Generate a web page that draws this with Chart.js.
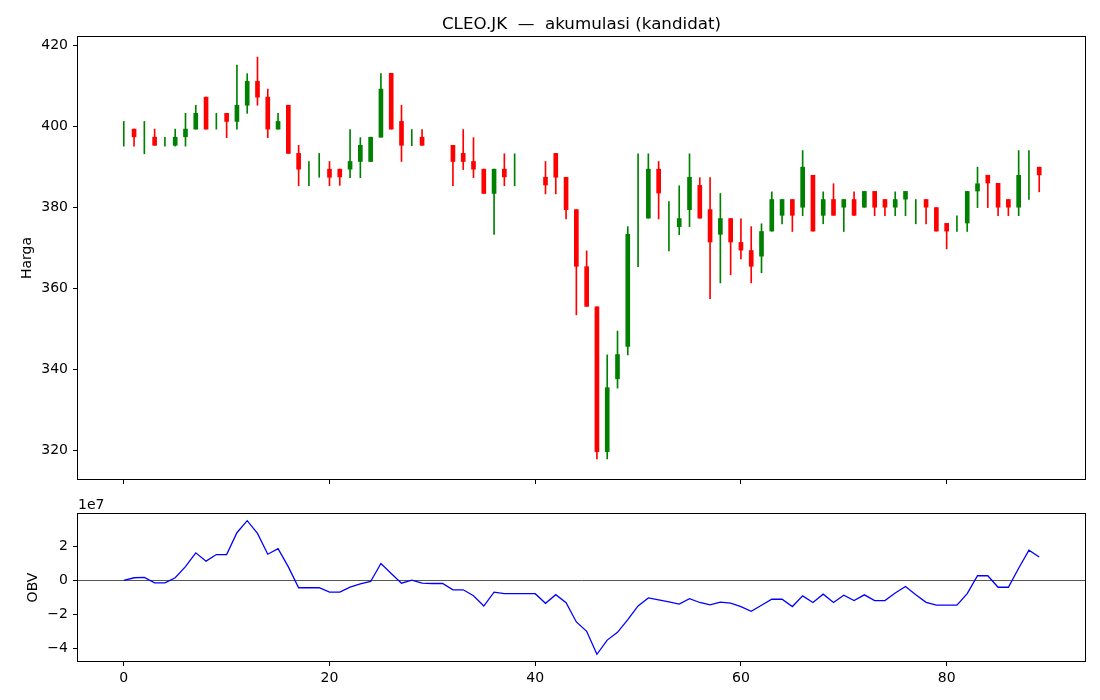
<!DOCTYPE html>
<html>
<head>
<meta charset="utf-8">
<script src="https://cdn.jsdelivr.net/npm/chart.js@4.4.1/dist/chart.umd.min.js"></script>
<style>
  html, body { margin: 0; padding: 0; background: #fff; }
  #wrap { position: relative; width: 1100px; height: 700px; }
  canvas { position: absolute; left: 0; }
  #price { top: 0; }
  #obv { top: 493px; }
</style>
</head>
<body>
<div id="wrap">
  <canvas id="price" width="1100" height="493"></canvas>
  <canvas id="obv" width="1100" height="207"></canvas>
</div>
<script>
// Chart data
const TITLE = 'CLEO.JK  —  akumulasi (kandidat)';

const days = Array.from({ length: 90 }, (_, i) => i);

const opens = [
  397.3, 399.3, 399.3, 397.3, 395.3, 395.3, 397.4, 399.3, 407.2, 401.2,
  403.2, 401.2, 405.2, 411.1, 407.2, 399.3, 405.2, 393.3, 389.4, 389.4,
  389.4, 389.4, 389.4, 391.3, 391.3, 397.3, 413.1, 401.2, 397.3, 397.3,
  395.3, 395.3, 395.3, 393.3, 391.3, 389.4, 383.4, 389.4, 387.5, 387.5,
  387.5, 387.4, 393.3, 387.4, 379.4, 365.3, 355.4, 319.6, 337.6, 345.6,
  377.3, 377.3, 389.4, 375.2, 375.2, 379.4, 385.4, 379.4, 373.3, 377.2,
  371.3, 369.3, 367.9, 374.1, 378.0, 381.9, 380.0, 387.9, 378.0, 381.9,
  380.0, 381.9, 380.0, 383.9, 381.9, 380.0, 382.0, 380.0, 381.9, 379.9,
  376.0, 374.1, 376.1, 384.0, 387.9, 385.9, 381.9, 380.0, 389.9, 389.9
];
const highs = [
  401.2, 399.3, 401.2, 399.3, 397.3, 399.3, 403.2, 405.2, 407.2, 403.2,
  403.2, 415.1, 413.0, 417.1, 409.2, 403.2, 405.2, 395.3, 391.3, 393.3,
  391.3, 389.4, 399.2, 397.2, 397.3, 413.0, 413.1, 405.2, 399.2, 399.2,
  395.3, 395.3, 395.3, 399.2, 397.2, 389.4, 389.4, 393.2, 393.2, 387.5,
  387.5, 391.3, 393.3, 387.4, 379.4, 369.2, 355.4, 343.5, 349.4, 375.2,
  393.2, 393.2, 391.3, 381.4, 385.3, 393.2, 387.3, 387.3, 383.4, 377.2,
  377.1, 375.2, 375.9, 383.8, 381.9, 381.9, 394.0, 387.9, 383.8, 385.8,
  381.9, 383.8, 383.9, 383.9, 381.9, 383.8, 383.9, 381.9, 381.9, 379.9,
  376.0, 377.9, 383.9, 389.9, 387.9, 385.9, 381.9, 394.0, 394.0, 389.9
];
const lows = [
  395.1, 395.1, 393.2, 395.3, 395.1, 395.1, 395.1, 399.3, 399.3, 399.3,
  397.2, 399.3, 403.2, 405.2, 397.2, 399.3, 393.3, 385.3, 385.3, 387.4,
  385.3, 385.4, 387.3, 387.3, 391.3, 397.3, 399.3, 391.3, 395.2, 395.3,
  395.3, 395.3, 385.3, 389.3, 387.3, 383.4, 373.3, 385.3, 385.3, 387.5,
  387.5, 383.3, 383.3, 377.1, 353.4, 355.5, 317.8, 317.8, 335.3, 343.5,
  365.3, 377.3, 377.1, 369.2, 373.2, 375.2, 377.3, 357.4, 361.3, 363.3,
  367.2, 361.3, 363.8, 374.1, 375.9, 374.0, 377.9, 374.1, 375.9, 378.0,
  374.0, 378.0, 380.0, 377.9, 377.9, 377.9, 377.9, 375.9, 375.9, 374.1,
  369.7, 374.0, 374.0, 379.9, 379.9, 377.9, 377.9, 377.9, 381.9, 383.8
];
const closes = [
  397.3, 397.4, 399.3, 395.3, 395.3, 397.3, 399.3, 403.2, 399.3, 401.2,
  401.2, 405.2, 411.1, 407.2, 399.3, 401.2, 393.3, 389.4, 389.4, 389.4,
  387.4, 387.5, 391.3, 395.3, 397.3, 409.2, 399.3, 395.3, 397.3, 395.3,
  395.3, 395.3, 391.3, 391.3, 389.4, 383.4, 389.4, 387.5, 387.5, 387.5,
  387.5, 385.5, 387.4, 379.4, 365.4, 355.5, 319.6, 335.4, 343.6, 373.3,
  377.3, 389.4, 383.5, 375.2, 377.2, 387.4, 377.3, 371.4, 377.2, 371.4,
  369.4, 365.4, 374.0, 381.9, 381.9, 378.0, 389.9, 374.1, 381.9, 378.0,
  381.9, 378.0, 383.9, 380.0, 380.0, 381.9, 383.9, 380.0, 380.0, 374.1,
  374.1, 374.1, 383.9, 385.8, 386.0, 380.0, 380.0, 387.9, 389.9, 388.0
];

// OBV in units of 1e7
const obvE7 = [
  0.00, 0.16, 0.18, -0.14, -0.14, 0.16, 0.82, 1.63, 1.14, 1.53,
  1.53, 2.82, 3.53, 2.78, 1.55, 1.88, 0.80, -0.43, -0.43, -0.43,
  -0.69, -0.69, -0.39, -0.20, -0.06, 1.00, 0.41, -0.16, 0.02, -0.16,
  -0.18, -0.18, -0.55, -0.55, -0.90, -1.51, -0.69, -0.78, -0.78, -0.78,
  -0.78, -1.35, -0.84, -1.31, -2.45, -3.00, -4.36, -3.52, -3.06, -2.31,
  -1.50, -1.03, -1.15, -1.26, -1.40, -1.07, -1.30, -1.44, -1.28, -1.34,
  -1.54, -1.82, -1.46, -1.11, -1.11, -1.54, -0.91, -1.30, -0.81, -1.30,
  -0.87, -1.19, -0.85, -1.19, -1.19, -0.74, -0.36, -0.84, -1.29, -1.46,
  -1.46, -1.46, -0.78, 0.28, 0.28, -0.40, -0.40, 0.72, 1.79, 1.39
];

const dayTicks = [0, 20, 40, 60, 80];
const priceTicks = [320, 340, 360, 380, 400, 420];
const obvTicks = [-4, -2, 0, 2];

const UP = '#008000';
const DOWN = '#ff0000';
const OBV_COLOR = '#0000ff';

Chart.defaults.font.family = "'DejaVu Sans', sans-serif";
Chart.defaults.font.size = 14;
Chart.defaults.color = '#000';

// matplotlib style 5% margins
function padRange(lo, hi) {
    const m = (hi - lo) * 0.05;
    return [lo - m, hi + m];
}
const [xMin, xMax] = padRange(days[0], days[days.length - 1]);
const [pMin, pMax] = padRange(Math.min(...lows), Math.max(...highs));
const [oMin, oMax] = padRange(Math.min(...obvE7), Math.max(...obvE7));

const candleColors = days.map((i) => (closes[i] >= opens[i] ? UP : DOWN));

// zero-height bars are left out, like a flat body in matplotlib
const span = (i, a, b) => (a === b ? { x: i, y: null } : { x: i, y: [a, b] });

// box around the plot area + free text
const framePlugin = {
    id: 'frame',
    afterDraw(chart, args, opts) {
        const { ctx, chartArea: a } = chart;
        ctx.save();
        ctx.strokeStyle = '#000';
        ctx.lineWidth = 1;
        ctx.strokeRect(Math.round(a.left) - 0.5, Math.round(a.top) - 0.5,
            Math.round(a.right - a.left) + 1, Math.round(a.bottom - a.top) + 1);
        if (opts.title) {
            ctx.fillStyle = '#000';
            ctx.font = "16.7px 'DejaVu Sans'";
            ctx.textAlign = 'center';
            ctx.textBaseline = 'alphabetic';
            ctx.fillText(opts.title, (a.left + a.right) / 2, a.top - 8);
        }
        if (opts.offsetText) {
            ctx.fillStyle = '#000';
            ctx.font = "14px 'DejaVu Sans'";
            ctx.textAlign = 'left';
            ctx.textBaseline = 'alphabetic';
            ctx.fillText(opts.offsetText, a.left, a.top - 5);
        }
        ctx.restore();
    },
};

const minus = (v) => String(v).replace('-', '\u2212');

const xAxis = (showLabels, height) => ({
    type: 'linear',
    min: xMin,
    max: xMax,
    offset: false,
    afterBuildTicks: (s) => { s.ticks = dayTicks.map((v) => ({ value: v })); },
    afterFit: (s) => { s.height = height; },
    grid: { offset: false, drawOnChartArea: false, tickLength: 5, tickColor: '#000' },
    border: { display: false },
    ticks: {
        padding: 4,
        maxRotation: 0,
        callback: (v) => (showLabels ? v : ''),
    },
});

const priceChart = new Chart(document.getElementById('price'), {
    type: 'bar',
    data: {
        datasets: [
            {
                label: 'body',
                data: days.map((i) => span(i, opens[i], closes[i])),
                backgroundColor: candleColors,
                barThickness: 4,
                grouped: false,
                order: 1,
            },
            {
                label: 'wick',
                data: days.map((i) => span(i, lows[i], highs[i])),
                backgroundColor: candleColors,
                barThickness: 1,
                grouped: false,
                order: 2,
            },
        ],
    },
    options: {
        responsive: false,
        animation: false,
        layout: { padding: { left: 0, top: 37, right: 15, bottom: 0 } },
        plugins: {
            legend: { display: false },
            tooltip: { enabled: false },
            frame: { title: TITLE },
        },
        scales: {
            x: xAxis(false, 14),
            y: {
                type: 'linear',
                min: pMin,
                max: pMax,
                afterBuildTicks: (s) => { s.ticks = priceTicks.map((v) => ({ value: v })); },
                afterFit: (s) => { s.width = 78; },
                grid: { drawOnChartArea: false, tickLength: 5, tickColor: '#000' },
                border: { display: false },
                ticks: { padding: 5 },
                title: { display: true, text: 'Harga', padding: { top: 19, bottom: 0 } },
            },
        },
    },
    plugins: [framePlugin],
});

const obvChart = new Chart(document.getElementById('obv'), {
    type: 'line',
    data: {
        datasets: [
            {
                label: 'OBV',
                data: days.map((i) => ({ x: i, y: obvE7[i] })),
                borderColor: OBV_COLOR,
                borderWidth: 1.3,
                pointRadius: 0,
                tension: 0,
                fill: false,
            },
        ],
    },
    options: {
        responsive: false,
        animation: false,
        layout: { padding: { left: 0, top: 21, right: 15, bottom: 0 } },
        plugins: {
            legend: { display: false },
            tooltip: { enabled: false },
            frame: { offsetText: '1e7' },
        },
        scales: {
            x: xAxis(true, 39),
            y: {
                type: 'linear',
                min: oMin,
                max: oMax,
                afterBuildTicks: (s) => { s.ticks = obvTicks.map((v) => ({ value: v })); },
                afterFit: (s) => { s.width = 78; },
                grid: {
                    drawOnChartArea: true,
                    color: (c) => (c.tick && c.tick.value === 0 ? '#555555' : 'rgba(0,0,0,0)'),
                    tickColor: '#000',
                    tickLength: 5,
                },
                border: { display: false },
                ticks: { padding: 5, callback: (v) => minus(v) },
                title: { display: true, text: 'OBV', padding: { top: 25, bottom: 0 } },
            },
        },
    },
    plugins: [framePlugin],
});
</script>
</body>
</html>
